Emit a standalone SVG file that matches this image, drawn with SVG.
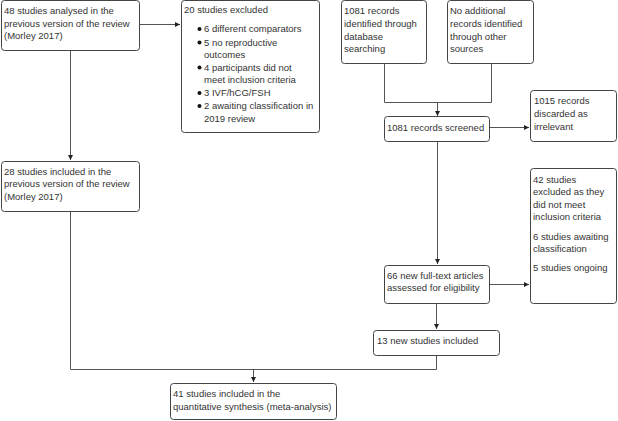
<svg xmlns="http://www.w3.org/2000/svg" width="618" height="421" viewBox="0 0 618 421">
<style>
.box{fill:#fff;stroke:#444;stroke-width:1}
text{font-family:"Liberation Sans",Arial,sans-serif;font-size:9.5px;fill:#333}
.c{fill:none;stroke:#555;stroke-width:1}
</style>
<defs>
<marker id="ah" markerWidth="6" markerHeight="6" refX="5" refY="3" orient="auto" markerUnits="userSpaceOnUse">
<path d="M0,0.5 L5,3 L0,5.5 Z" fill="#222"/>
</marker>
</defs>
<rect width="618" height="421" fill="#fff"/>
<g id="connectors">
<path class="c" d="M139.5,24.5 H180" marker-end="url(#ah)"/>
<path class="c" d="M70.5,50.5 V160" marker-end="url(#ah)"/>
<path class="c" d="M384.5,63.5 V102.5 H491.5 V63.5"/>
<path class="c" d="M437.5,102.5 V116" marker-end="url(#ah)"/>
<path class="c" d="M489.5,127.5 H529" marker-end="url(#ah)"/>
<path class="c" d="M437.5,141.5 V264" marker-end="url(#ah)"/>
<path class="c" d="M489.5,284.5 H529" marker-end="url(#ah)"/>
<path class="c" d="M436.5,303.5 V329" marker-end="url(#ah)"/>
<path class="c" d="M70.5,211.5 V369.5 H436.5 V355.5"/>
<path class="c" d="M253.5,369.5 V382" marker-end="url(#ah)"/>
</g>
<g id="n1">
<rect class="box" x="1.5" y="0.5" width="138" height="50" rx="3"/>
<text x="4" y="13.5">48 studies analysed in the</text>
<text x="4" y="26.5">previous version of the review</text>
<text x="4" y="39">(Morley 2017)</text>
</g>
<g id="n2">
<rect class="box" x="181.5" y="0.5" width="138" height="132" rx="3"/>
<text x="184" y="13">20 studies excluded</text>
<g fill="#111">
<circle cx="199.5" cy="29" r="2"/>
<circle cx="199.5" cy="42.5" r="2"/>
<circle cx="199.5" cy="67.5" r="2"/>
<circle cx="199.5" cy="93" r="2"/>
<circle cx="199.5" cy="106" r="2"/>
</g>
<text x="204" y="32">6 different comparators</text>
<text x="204" y="45.5">5 no reproductive</text>
<text x="204" y="57.5">outcomes</text>
<text x="204" y="70.5">4 participants did not</text>
<text x="204" y="83">meet inclusion criteria</text>
<text x="204" y="96">3 IVF/hCG/FSH</text>
<text x="204" y="109">2 awaiting classification in</text>
<text x="204" y="121.5">2019 review</text>
</g>
<g id="n3">
<rect class="box" x="341.5" y="0.5" width="85" height="63" rx="3"/>
<text x="344" y="13.5">1081 records</text>
<text x="344" y="26.5">identified through</text>
<text x="344" y="39.5">database</text>
<text x="344" y="52">searching</text>
</g>
<g id="n4">
<rect class="box" x="447.5" y="0.5" width="86" height="63" rx="3"/>
<text x="450" y="13.5">No additional</text>
<text x="450" y="26.5">records identified</text>
<text x="450" y="39.5">through other</text>
<text x="450" y="52">sources</text>
</g>
<g id="n5">
<rect class="box" x="384.5" y="116.5" width="105" height="25" rx="3"/>
<text x="387" y="130.5">1081 records screened</text>
</g>
<g id="n6">
<rect class="box" x="530.5" y="90.5" width="86" height="51" rx="3"/>
<text x="534" y="104">1015 records</text>
<text x="534" y="117">discarded as</text>
<text x="534" y="130">irrelevant</text>
</g>
<g id="n7">
<rect class="box" x="1.5" y="161.5" width="138" height="50" rx="3"/>
<text x="4" y="174.5">28 studies included in the</text>
<text x="4" y="187">previous version of the review</text>
<text x="4" y="199.5">(Morley 2017)</text>
</g>
<g id="n8">
<rect class="box" x="530.5" y="168.5" width="86" height="135" rx="3"/>
<text x="533" y="182.5">42 studies</text>
<text x="533" y="195">excluded as they</text>
<text x="533" y="207.5">did not meet</text>
<text x="533" y="220">inclusion criteria</text>
<text x="533" y="239.5">6 studies awaiting</text>
<text x="533" y="252">classification</text>
<text x="533" y="271">5 studies ongoing</text>
</g>
<g id="n9">
<rect class="box" x="384.5" y="265.5" width="105" height="38" rx="3"/>
<text x="387" y="278.5">66 new full-text articles</text>
<text x="387" y="291">assessed for eligibility</text>
</g>
<g id="n10">
<rect class="box" x="373.5" y="330.5" width="126" height="25" rx="3"/>
<text x="377" y="343.5">13 new studies included</text>
</g>
<g id="n11">
<rect class="box" x="170.5" y="383.5" width="166" height="36" rx="3"/>
<text x="173" y="396.5">41 studies included in the</text>
<text x="173" y="409.5">quantitative synthesis (meta-analysis)</text>
</g>
</svg>
